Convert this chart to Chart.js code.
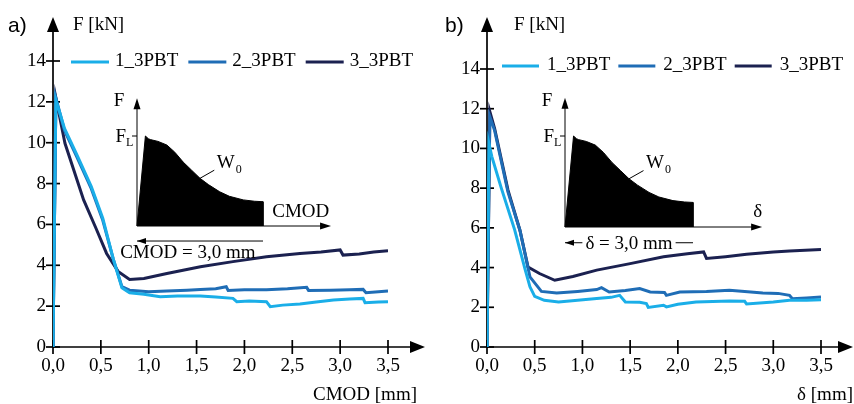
<!DOCTYPE html>
<html>
<head>
  <meta charset="utf-8">
  <title>3PBT F-CMOD / F-delta</title>
  <script src="https://cdn.jsdelivr.net/npm/chart.js"></script>
  <style>
    body { margin: 0; background: #fff; }
    #wrap { position: relative; width: 854px; height: 404px; }
    canvas { position: absolute; top: 0; }
  </style>
</head>
<body>
  <div id="wrap">
    <canvas id="chartA" width="427" height="404" style="left:0"></canvas>
    <canvas id="chartB" width="427" height="404" style="left:427px"></canvas>
  </div>

  <script>
    // series names / colours
    const seriesNames  = ['1_3PBT', '2_3PBT', '3_3PBT'];
    const seriesColors = ['#1aaee8', '#1f6db6', '#1b2150'];

    // a) F vs CMOD [mm]
    const aX1 = [0, 0.03, 0.12, 0.25, 0.40, 0.52, 0.63, 0.72, 0.80, 0.95, 1.12, 1.30, 1.54, 1.70, 1.88, 1.92, 2.05, 2.23, 2.27, 2.40, 2.58, 2.75, 2.93, 3.10, 3.24, 3.26, 3.40, 3.50];
    const aF1 = [0, 12.1, 10.7, 9.4, 7.85, 6.3, 4.3, 2.9, 2.65, 2.58, 2.46, 2.5, 2.5, 2.45, 2.38, 2.22, 2.25, 2.22, 1.97, 2.05, 2.1, 2.2, 2.3, 2.35, 2.38, 2.17, 2.2, 2.22];
    const aX2 = [0, 0.03, 0.12, 0.25, 0.40, 0.52, 0.63, 0.72, 0.80, 1.00, 1.19, 1.40, 1.54, 1.70, 1.81, 1.83, 2.00, 2.23, 2.45, 2.65, 2.67, 2.90, 3.10, 3.24, 3.27, 3.40, 3.50];
    const aF2 = [0, 12.2, 10.6, 9.3, 7.75, 6.2, 4.3, 2.95, 2.78, 2.7, 2.74, 2.78, 2.82, 2.85, 2.95, 2.77, 2.8, 2.8, 2.85, 2.92, 2.77, 2.78, 2.8, 2.82, 2.66, 2.7, 2.74];
    const aX3 = [0, 0.03, 0.125, 0.32, 0.45, 0.56, 0.68, 0.80, 0.95, 1.19, 1.54, 1.88, 2.23, 2.58, 2.80, 3.00, 3.03, 3.20, 3.35, 3.50];
    const aF3 = [0, 12.2, 9.97, 7.2, 5.8, 4.58, 3.7, 3.31, 3.35, 3.6, 3.93, 4.18, 4.42, 4.58, 4.65, 4.75, 4.5, 4.55, 4.65, 4.71];

    // b) F vs delta [mm]
    const bX1 = [0, 0.02, 0.05, 0.15, 0.29, 0.40, 0.45, 0.50, 0.60, 0.75, 0.95, 1.15, 1.30, 1.39, 1.45, 1.60, 1.67, 1.69, 1.85, 1.88, 2.00, 2.19, 2.54, 2.70, 2.72, 3.00, 3.17, 3.35, 3.50];
    const bF1 = [0, 10.25, 9.6, 8.0, 5.9, 3.9, 3.03, 2.55, 2.35, 2.27, 2.35, 2.44, 2.5, 2.6, 2.27, 2.25, 2.19, 1.99, 2.1, 2.02, 2.15, 2.27, 2.32, 2.3, 2.17, 2.27, 2.35, 2.36, 2.38];
    const bX2 = [0, 0.03, 0.08, 0.22, 0.345, 0.45, 0.57, 0.73, 0.95, 1.15, 1.20, 1.28, 1.45, 1.60, 1.71, 1.86, 1.88, 2.02, 2.30, 2.54, 2.70, 2.89, 3.05, 3.17, 3.20, 3.35, 3.50];
    const bF2 = [0, 11.6, 10.9, 7.8, 5.88, 3.53, 2.8, 2.72, 2.8, 2.89, 2.99, 2.77, 2.85, 2.94, 2.77, 2.75, 2.6, 2.77, 2.8, 2.86, 2.8, 2.72, 2.7, 2.6, 2.43, 2.47, 2.52];
    const bX3 = [0, 0.03, 0.08, 0.22, 0.345, 0.43, 0.55, 0.71, 0.90, 1.15, 1.50, 1.85, 2.10, 2.27, 2.30, 2.50, 2.72, 3.00, 3.17, 3.50];
    const bF3 = [0, 11.85, 11.0, 7.9, 5.88, 4.03, 3.7, 3.36, 3.55, 3.87, 4.2, 4.54, 4.7, 4.79, 4.46, 4.55, 4.67, 4.78, 4.84, 4.91];

    // schematic inset curve (x in mm, F relative to F_L)
    const insetX = [0, 0.20, 0.27, 0.32, 0.50, 0.71, 0.90, 1.10, 1.30, 1.50, 1.70, 1.97, 2.20, 2.53, 2.80, 3.00, 3.00];
    const insetF = [0, 1.00, 0.97, 0.96, 0.94, 0.90, 0.82, 0.71, 0.62, 0.53, 0.46, 0.38, 0.33, 0.29, 0.275, 0.27, 0];

    const SERIF = "'Liberation Serif', 'Times New Roman', serif";
    const SANS = "'Liberation Sans', Arial, sans-serif";

    function seg(ctx, x1, y1, x2, y2) {
      ctx.beginPath(); ctx.moveTo(x1, y1); ctx.lineTo(x2, y2); ctx.stroke();
    }
    function tri(ctx, p) {
      ctx.beginPath(); ctx.moveTo(p[0][0], p[0][1]); ctx.lineTo(p[1][0], p[1][1]); ctx.lineTo(p[2][0], p[2][1]);
      ctx.closePath(); ctx.fill();
    }

    const panelPlugin = {
      id: 'panel',
      beforeDatasetsDraw(chart, args, o) {
        const { ctx, scales: { x, y, xInset: xi, yInset: yi } } = chart;
        const x0 = x.getPixelForValue(0), y0 = y.getPixelForValue(0);
        ctx.save();
        ctx.strokeStyle = '#000'; ctx.fillStyle = '#000'; ctx.lineWidth = 1.7;
        // main axes with arrows
        seg(ctx, x0, y0, x0, o.yTip + 12);
        tri(ctx, [[x0, o.yTip], [x0 - 6, o.yTip + 15], [x0 + 6, o.yTip + 15]]);
        seg(ctx, x0, y0, o.xTip - 12, y0);
        tri(ctx, [[o.xTip, y0], [o.xTip - 15, y0 - 6], [o.xTip - 15, y0 + 6]]);
        x.ticks.forEach(t => { const p = x.getPixelForValue(t.value); seg(ctx, p, y0 - 7, p, y0 + 7); });
        y.ticks.forEach(t => { const p = y.getPixelForValue(t.value); seg(ctx, x0 - 7, p, x0 + 7, p); });

        // inset axes
        const ox = xi.getPixelForValue(0), oy = yi.getPixelForValue(0);
        const top = yi.getPixelForValue(1.42), end = xi.getPixelForValue(4.62);
        ctx.lineWidth = 1;
        seg(ctx, ox, oy, ox, top + 8);
        tri(ctx, [[ox, top], [ox - 3.5, top + 11], [ox + 3.5, top + 11]]);
        seg(ctx, ox, oy, end - 8, oy);
        tri(ctx, [[end, oy], [end - 11, oy - 3.5], [end - 11, oy + 3.5]]);
        const fl = yi.getPixelForValue(1);
        seg(ctx, ox - 5, fl, ox, fl);
        ctx.restore();
      },
      afterDatasetsDraw(chart, args, o) {
        const { ctx, scales: { x, y, xInset: xi, yInset: yi } } = chart;
        const x0 = x.getPixelForValue(0);
        const P = (vx, vy) => [xi.getPixelForValue(vx), yi.getPixelForValue(vy)];
        ctx.save();
        ctx.fillStyle = '#000'; ctx.strokeStyle = '#000';
        ctx.textBaseline = 'middle';

        // panel letter
        ctx.font = `21px ${SANS}`;
        ctx.textAlign = 'left';
        ctx.fillText(o.letter, o.letterX, 26);

        // axis titles
        ctx.font = `19px ${SERIF}`;
        ctx.fillText('F [kN]', x0 + o.yTitleDx, 25);
        ctx.textAlign = 'right';
        ctx.fillText(o.xTitle, o.xTitleRight, 395);

        // legend
        let cx = o.legend.x;
        ctx.textAlign = 'left';
        chart.data.datasets.forEach(ds => {
          if (!ds.label) return;
          ctx.strokeStyle = ds.borderColor; ctx.lineWidth = 3.2;
          seg(ctx, cx, o.legend.y + 1, cx + o.legend.line, o.legend.y + 1);
          cx += o.legend.line + o.legend.gap;
          ctx.fillText(ds.label, cx, o.legend.y);
          cx += ctx.measureText(ds.label).width + o.legend.sep;
        });

        // inset labels
        const ox = xi.getPixelForValue(0);
        const top = yi.getPixelForValue(1.42), fl = yi.getPixelForValue(1);
        ctx.textAlign = 'center';
        ctx.fillText('F', ox - 18, top + 3);
        ctx.textAlign = 'right';
        ctx.fillText('F', ox - 11, fl + 1);
        ctx.font = `12px ${SERIF}`;
        ctx.textAlign = 'left';
        ctx.fillText('L', ox - 11, fl + 7);

        // W0 with leader
        ctx.strokeStyle = '#000'; ctx.lineWidth = 1;
        const l1 = P(1.5, 0.53), l2 = P(1.84, 0.62);
        seg(ctx, l1[0], l1[1], l2[0], l2[1]);
        const w = P(1.9, 0.7);
        ctx.font = `19px ${SERIF}`;
        ctx.fillText('W', w[0], w[1]);
        const ww = ctx.measureText('W').width;
        ctx.font = `12px ${SERIF}`;
        ctx.fillText('0', w[0] + ww + 1, w[1] + 7);

        // inset axis name
        ctx.font = `19px ${SERIF}`;
        const an = P(o.axisNameX, 0.16);
        ctx.fillText(o.axisName, an[0], an[1]);

        // 3,0 mm dimension
        const d0 = P(0, o.dimY), d1 = P(3, o.dimY);
        if (o.dimInline) {
          ctx.textAlign = 'center';
          const c = P(1.5, o.dimY);
          const tw = ctx.measureText(o.dimText).width;
          ctx.fillText(o.dimText, c[0], c[1] + 1);
          seg(ctx, d0[0], d0[1], c[0] - tw / 2 - 3, d0[1]);
          seg(ctx, c[0] + tw / 2 + 3, d1[1], d1[0], d1[1]);
        } else {
          seg(ctx, d0[0], d0[1], d1[0], d1[1]);
          ctx.textAlign = 'center';
          const c = P(1.21, o.dimY - 0.13);
          ctx.fillText(o.dimText, c[0], c[1]);
        }
        tri(ctx, [[d0[0], d0[1]], [d0[0] + 9, d0[1] - 3], [d0[0] + 9, d0[1] + 3]]);
        ctx.restore();
      }
    };

    function buildPanel(id, xs, fs, opt) {
      const datasets = xs.map((xv, i) => ({
        label: seriesNames[i],
        data: xv.map((v, j) => ({ x: v, y: fs[i][j] })),
        borderColor: seriesColors[i],
        borderWidth: 3,
        pointRadius: 0,
        tension: 0,
        fill: false
      }));
      datasets.push({
        label: '',
        data: insetX.map((v, j) => ({ x: v, y: insetF[j] })),
        xAxisID: 'xInset',
        yAxisID: 'yInset',
        borderColor: '#000',
        backgroundColor: '#000',
        borderWidth: 1,
        pointRadius: 0,
        tension: 0,
        fill: 'origin'
      });

      const a = opt.area, s = opt.inset;
      const kx = (s.x3 - s.ox) / 3, ky = s.oy - s.f1;
      const tickFont = { family: SERIF, size: 19 };

      new Chart(document.getElementById(id), {
        type: 'line',
        data: { datasets: datasets },
        options: {
          responsive: false,
          animation: false,
          events: [],
          layout: { padding: { left: 0, top: a.top, right: 427 - a.right, bottom: 0 } },
          plugins: { legend: { display: false }, tooltip: { enabled: false }, panel: opt },
          scales: {
            x: {
              type: 'linear', min: 0, max: 3.5,
              afterFit: sc => { sc.height = 404 - a.bottom; },
              border: { display: false },
              grid: { display: false, drawTicks: false },
              ticks: { stepSize: 0.5, padding: 8, color: '#000', font: tickFont,
                       callback: v => Number(v).toFixed(1).replace('.', ',') }
            },
            y: {
              type: 'linear', min: 0, max: 14,
              afterFit: sc => { sc.width = a.left; },
              border: { display: false },
              grid: { display: false, drawTicks: false },
              ticks: { stepSize: 2, padding: 7, color: '#000', font: tickFont }
            },
            xInset: { type: 'linear', axis: 'x', display: false,
                      min: -(s.ox - a.left) / kx, max: (a.right - s.ox) / kx },
            yInset: { type: 'linear', axis: 'y', display: false,
                      min: -(a.bottom - s.oy) / ky, max: (s.oy - a.top) / ky }
          }
        },
        plugins: [panelPlugin]
      });
    }

    buildPanel('chartA', [aX1, aX2, aX3], [aF1, aF2, aF3], {
      letter: 'a)', letterX: 8, yTitleDx: 20, xTitle: 'CMOD [mm]', xTitleRight: 417,
      yTip: 17, xTip: 425,
      area: { left: 53, right: 388, top: 61, bottom: 347 },
      inset: { ox: 137, oy: 226, x3: 263, f1: 136 },
      legend: { x: 71, y: 61, line: 38, gap: 6, sep: 10 },
      axisName: 'CMOD', axisNameX: 3.22,
      dimText: 'CMOD = 3,0 mm', dimY: -0.167, dimInline: false
    });

    buildPanel('chartB', [bX1, bX2, bX3], [bF1, bF2, bF3], {
      letter: 'b)', letterX: 18, yTitleDx: 27, xTitle: 'δ [mm]', xTitleRight: 426,
      yTip: 17, xTip: 426,
      area: { left: 60, right: 394, top: 69, bottom: 347 },
      inset: { ox: 138, oy: 227, x3: 266, f1: 136 },
      legend: { x: 75, y: 65, line: 37, gap: 8, sep: 8 },
      axisName: 'δ', axisNameX: 4.41,
      dimText: 'δ = 3,0 mm', dimY: -0.173, dimInline: true
    });
  </script>
</body>
</html>
